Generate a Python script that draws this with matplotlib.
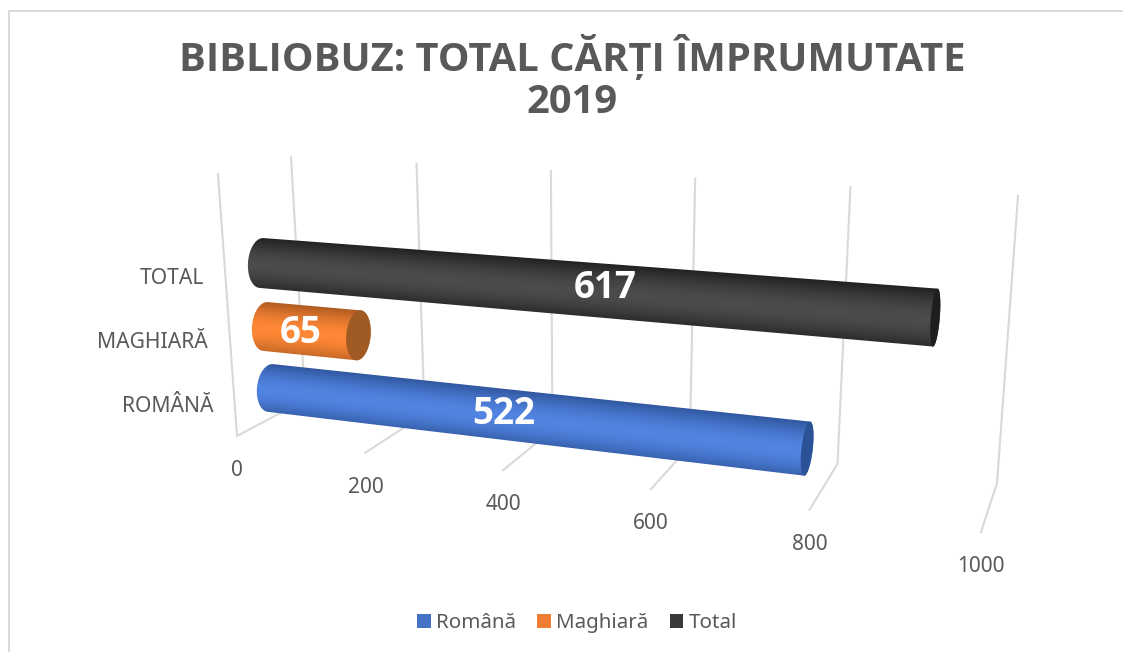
import numpy as np
import matplotlib
matplotlib.use("Agg")
import matplotlib.pyplot as plt
from matplotlib.patches import Polygon, Rectangle

# data
title = "BIBLIOBUZ: TOTAL CĂRȚI ÎMPRUMUTATE\n2019"
categories = ["ROMÂNĂ", "MAGHIARĂ", "TOTAL"]
series_names = ["Română", "Maghiară", "Total"]
values = [522, 65, 617]
ticks = [0, 200, 400, 600, 800, 1000]

# look
legend_colors = ["#4472c4", "#ed7d31", "#3b3838"]
mid_colors = [(82, 132, 226), (255, 136, 54), (78, 76, 74)]
edge_colors = [(46, 84, 154), (172, 90, 32), (32, 30, 30)]
cap_colors = ["#2b5296", "#a05a24", "#1f1d1d"]
GRID = "#d9d9d9"
TEXT = "#595959"
FONT = "Noto Sans"
BOLD = "Open Sans"

# rows: start of the cylinder axis, slope, px per unit
row_x0 = [270.5, 265.5, 261.5]
row_y0 = [388, 326.5, 263]
row_slope = [0.113, 0.095, 0.081]
row_scale = [1.028, 1.43, 1.092]
row_r0 = [24.0, 24.5, 25.0]
label_frac = [0.434, 0.38, 0.51]
label_dy = [0, 3, -3]
cat_right = [214, 208, 204]


# axis corners in the drawing, perspective between 0 and 1000
def persp(v):
    u = v / 1000
    return u / (1 + 0.198 * (1 - u))


def corner(a, b, v):
    f = persp(v)
    return a[0] + (b[0] - a[0]) * f, a[1] + (b[1] - a[1]) * f


FRONT = ((237, 436), (981, 532))
BACK = ((305, 400), (997, 483))
TOP = ((291, 157), (1018, 196))

fig = plt.figure(figsize=(11.23, 6.52), dpi=100)
ax = fig.add_axes([0, 0, 1, 1])
ax.set_xlim(0, 1123)
ax.set_ylim(652, 0)
ax.axis("off")

# frame
ax.plot([8.5, 8.5, 1123], [652, 10.5, 10.5], color=GRID, lw=1.4, zorder=1)

# gridlines
lw = 1.5
ax.plot([218, 237], [174, 436], color=GRID, lw=lw, zorder=1)
for t in ticks:
    f = corner(*FRONT, t)
    b = corner(*BACK, t)
    c = corner(*TOP, t)
    ax.plot([f[0], b[0], c[0]], [f[1], b[1], c[1]], color=GRID, lw=lw, zorder=1)
    ax.text(f[0], f[1] + 34.5, str(t), ha="center", va="center", fontsize=15,
            color=TEXT, family=FONT)

for name, right, y in zip(categories, cat_right, [407, 342, 278]):
    ax.text(right, y, name, ha="right", va="center", fontsize=15.2, color=TEXT, family=FONT)


def draw_cylinder(i):
    x0, y0, slope = row_x0[i], row_y0[i], row_slope[i]
    length = values[i] * row_scale[i]
    x1, y1 = x0 + length, y0 + length * slope
    n = np.hypot(1, slope)
    d = np.array([1, slope]) / n
    nrm = np.array([-slope, 1]) / n
    total = np.hypot(x1 - x0, y1 - y0)
    r0 = row_r0[i]
    r1 = r0 + 0.006 * length
    a0 = 13.5
    a1 = max(4.5, 13.5 - (x1 - 265) * 0.0145)

    p0 = np.array([x0, y0])
    p1 = np.array([x1, y1])
    th = np.linspace(np.pi / 2, 3 * np.pi / 2, 40)
    left = p0 + np.outer(a0 * np.cos(th), d) + np.outer(r0 * np.sin(th), nrm)
    th2 = np.linspace(-np.pi / 2, np.pi / 2, 40)
    right = p1 + np.outer(a1 * np.cos(th2), d) + np.outer(r1 * np.sin(th2), nrm)
    outline = np.vstack([right, left])
    body = Polygon(outline, closed=True, transform=ax.transData, fc="none", ec="none")
    ax.add_patch(body)

    # shading across the cylinder
    xs = np.arange(x0 - 20, x1 + 20, 0.5)
    ys = np.arange(min(y0, y1) - 40, max(y0, y1) + 40, 0.5)
    gx, gy = np.meshgrid(xs, ys)
    s = (gx - x0) * d[0] + (gy - y0) * d[1]
    p = (gx - x0) * nrm[0] + (gy - y0) * nrm[1]
    r = r0 + (r1 - r0) * np.clip(s / total, 0, 1)
    tt = p / r
    w = np.clip(1 - (np.abs(tt - 0.12) / 1.12) ** 1.7, 0, 1)[..., None]
    img = (np.array(edge_colors[i]) + (np.array(mid_colors[i]) - np.array(edge_colors[i])) * w) / 255
    im = ax.imshow(img, extent=(xs[0], xs[-1], ys[-1], ys[0]), aspect="auto", zorder=3,
                   interpolation="bilinear")
    im.set_clip_path(body)

    # end cap
    th3 = np.linspace(0, 2 * np.pi, 80)
    cap = p1 + np.outer(a1 * np.cos(th3), d) + np.outer(r1 * np.sin(th3), nrm)
    ax.add_patch(Polygon(cap, closed=True, fc=cap_colors[i], ec="none", zorder=4))

    lx = x0 + length * label_frac[i]
    ly = y0 + length * label_frac[i] * slope + label_dy[i]
    ax.text(lx, ly, str(values[i]), ha="center", va="center", fontsize=26.5, fontweight="bold",
            color="white", family=BOLD, zorder=5)


for i in range(len(values)):
    draw_cylinder(i)

ax.set_xlim(0, 1123)
ax.set_ylim(652, 0)

ax.text(572.5, 78, title, ha="center", va="center", fontsize=28.75, fontweight="bold",
        color=TEXT, family=BOLD, linespacing=1.1)

handles = [Rectangle((0, 0), 1, 1, fc=c, ec="none") for c in legend_colors]
ax.legend(handles, series_names, loc="center", bbox_to_anchor=(577 / 1123, 1 - 623 / 652), ncol=3,
          frameon=False, handlelength=0.66, handleheight=0.66, handletextpad=0.25, columnspacing=1.05,
          labelcolor=TEXT, prop={"family": FONT, "size": 14.8})

fig.savefig("out.png", dpi=100)
